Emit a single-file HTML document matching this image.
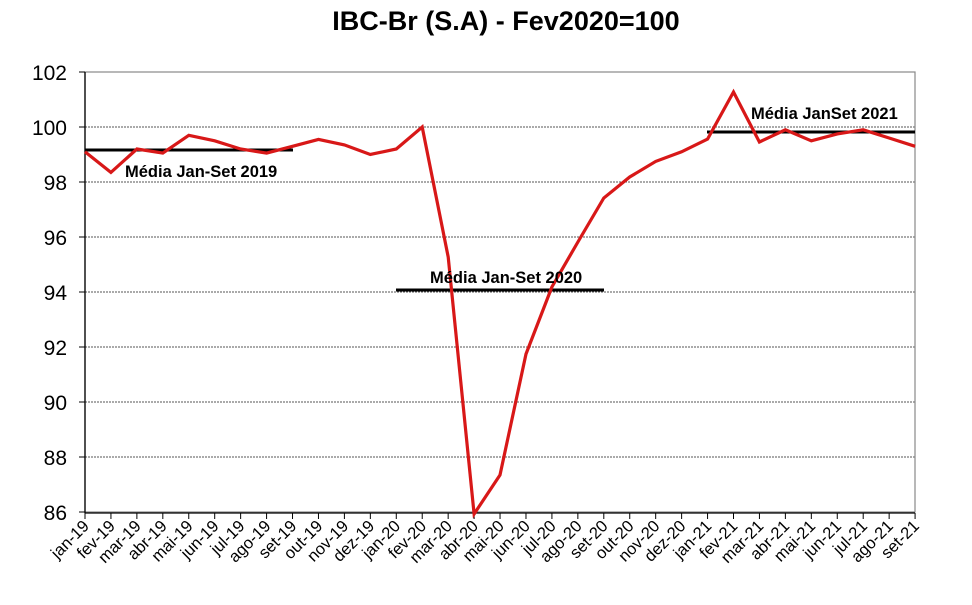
<!DOCTYPE html>
<html><head><meta charset="utf-8"><style>body{margin:0;background:#fff}svg{display:block;font-family:"Liberation Sans",Arial,sans-serif}</style></head><body>
<svg width="972" height="605" viewBox="0 0 972 605">
<text x="506" y="30" font-size="27" font-weight="bold" text-anchor="middle">IBC-Br (S.A) - Fev2020=100</text>
<g stroke="#555" stroke-width="1" stroke-dasharray="2,1">
<line x1="85" x2="915" y1="127" y2="127"/><line x1="85" x2="915" y1="182" y2="182"/><line x1="85" x2="915" y1="237" y2="237"/><line x1="85" x2="915" y1="292" y2="292"/><line x1="85" x2="915" y1="347" y2="347"/><line x1="85" x2="915" y1="402" y2="402"/><line x1="85" x2="915" y1="457" y2="457"/>
</g>
<rect x="85" y="72" width="830" height="440" fill="none" stroke="#888" stroke-width="1.2"/>
<line x1="85" y1="72" x2="85" y2="513" stroke="#000" stroke-width="1.3"/>
<line x1="85" y1="513" x2="915" y2="513" stroke="#000" stroke-width="1.3"/>
<g font-size="21" text-anchor="end">
<text x="67" y="80">102</text><text x="67" y="135">100</text><text x="67" y="190">98</text><text x="67" y="245">96</text><text x="67" y="300">94</text><text x="67" y="355">92</text><text x="67" y="410">90</text><text x="67" y="465">88</text><text x="67" y="520">86</text>
</g>
<g stroke="#000" stroke-width="1">
<line x1="79" x2="85" y1="72" y2="72"/><line x1="79" x2="85" y1="127" y2="127"/><line x1="79" x2="85" y1="182" y2="182"/><line x1="79" x2="85" y1="237" y2="237"/><line x1="79" x2="85" y1="292" y2="292"/><line x1="79" x2="85" y1="347" y2="347"/><line x1="79" x2="85" y1="402" y2="402"/><line x1="79" x2="85" y1="457" y2="457"/><line x1="79" x2="85" y1="512" y2="512"/>
</g>
<g id="ticks" stroke="#000" stroke-width="1"></g>
<g id="lbl" font-size="16.5" text-anchor="end"></g>
<line x1="85" y1="150" x2="293" y2="150" stroke="#000" stroke-width="3"/>
<line x1="396" y1="290" x2="604" y2="290" stroke="#000" stroke-width="3"/>
<line x1="707" y1="132" x2="915" y2="132" stroke="#000" stroke-width="3"/>
<polyline fill="none" stroke="#d81818" stroke-width="3.2" stroke-linejoin="miter" points="85,151.8 110.9,172.4 136.9,149 162.8,153.1 188.8,135.3 214.7,140.8 240.6,149 266.6,153.1 292.5,146.3 318.5,139.4 344.4,144.9 370.3,154.5 396.3,149 422.2,127 448.2,257 474.1,514 500,475 526,354 551.9,287 577.9,242 603.8,198 629.7,177 655.7,161.4 681.6,151.8 707.6,139 733.5,92 759.4,142 785.4,129.8 811.3,140.8 837.3,133.9 863.2,129.8 889.1,138 915.1,146.3"/>
<g font-size="16.5" font-weight="bold">
<text x="125" y="177">Média Jan-Set 2019</text>
<text x="430" y="283">Média Jan-Set 2020</text>
<text x="751" y="119">Média JanSet 2021</text>
</g>
<script>
var m=["jan","fev","mar","abr","mai","jun","jul","ago","set","out","nov","dez"];
var t=document.getElementById("ticks"),l=document.getElementById("lbl"),ns="http://www.w3.org/2000/svg";
for(var i=0;i<33;i++){var x=85+25.94*i;
var ln=document.createElementNS(ns,"line");ln.setAttribute("x1",x);ln.setAttribute("x2",x);ln.setAttribute("y1",513);ln.setAttribute("y2",519);t.appendChild(ln);
var tx=document.createElementNS(ns,"text");var ax=x+5,ay=527;tx.setAttribute("x",ax);tx.setAttribute("y",ay);tx.setAttribute("transform","rotate(-45 "+ax+" "+ay+")");
tx.textContent=m[i%12]+"-"+(19+Math.floor(i/12));l.appendChild(tx);}
</script>
</svg>
</body></html>
